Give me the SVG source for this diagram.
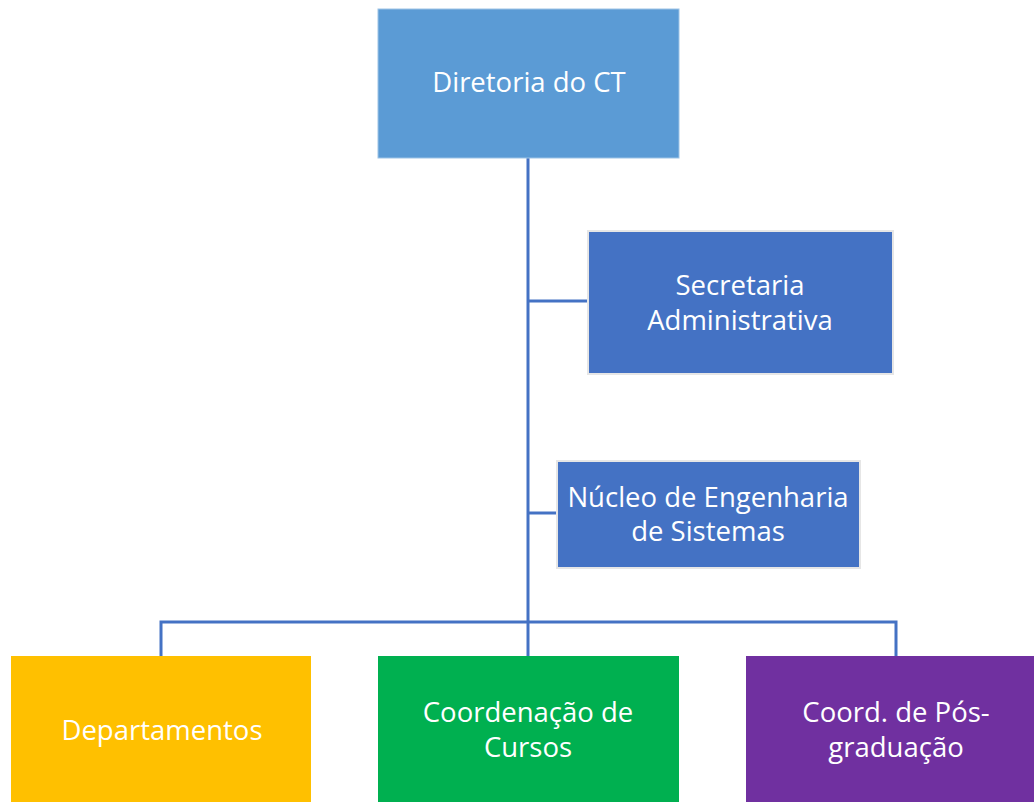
<svg xmlns="http://www.w3.org/2000/svg" width="1034" height="802" viewBox="0 0 1034 802">
<style>
text{font-family:"Open Sans","Liberation Sans",sans-serif;font-size:27.5px;fill:#fff;text-anchor:middle}
.c{stroke:#4472C4;stroke-width:3;fill:none}
.sub{fill:#4472C4;stroke:#E6E6E6;stroke-width:2}
</style>
<rect width="1034" height="802" fill="#fff"/>
<g id="connectors">
<path class="c" d="M528 158V622"/>
<path class="c" d="M528 301H588"/>
<path class="c" d="M528 513H557"/>
<path class="c" d="M161 656V622H896V656"/>
<path class="c" d="M528 622V656"/>
</g>
<g id="diretoria"><rect x="378" y="9" width="301" height="149" fill="#5B9BD5" stroke="#9DC3E6" stroke-width="1"/><text x="529" y="92">Diretoria do CT</text></g>
<g id="secretaria"><rect class="sub" x="588" y="231" width="305" height="143"/><text x="740" y="295">Secretaria</text><text x="740" y="330">Administrativa</text></g>
<g id="nucleo"><rect class="sub" x="557" y="461" width="303" height="107"/><text x="708" y="507">Núcleo de Engenharia</text><text x="708" y="541">de Sistemas</text></g>
<g id="departamentos"><rect x="11" y="656" width="300" height="150" fill="#FFC000"/><text x="162" y="740">Departamentos</text></g>
<g id="coordenacao"><rect x="378" y="656" width="301" height="150" fill="#00B050"/><text x="528" y="722">Coordenação de</text><text x="528" y="757">Cursos</text></g>
<g id="posgrad"><rect x="746" y="656" width="300" height="150" fill="#7030A0"/><text x="896" y="722">Coord. de Pós-</text><text x="896" y="757">graduação</text></g>
</svg>
